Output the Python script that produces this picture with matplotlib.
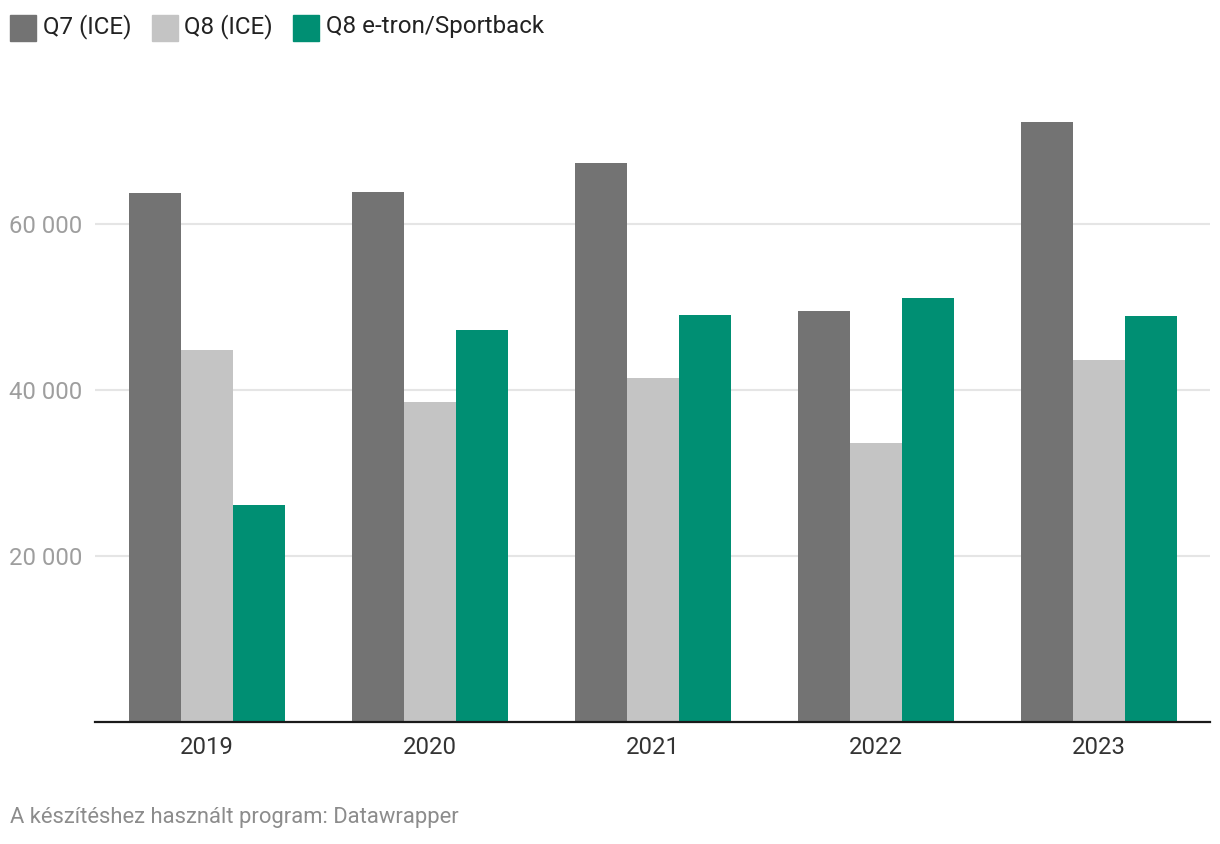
import numpy as np
import matplotlib.pyplot as plt
from matplotlib.patches import Rectangle

plt.rcParams['font.family'] = ['Roboto', 'DejaVu Sans']

years = ['2019', '2020', '2021', '2022', '2023']
series_names = ['Q7 (ICE)', 'Q8 (ICE)', 'Q8 e-tron/Sportback']
q7_ice = [63700, 63900, 67300, 49500, 72300]
q8_ice = [44800, 38500, 41400, 33600, 43600]
q8_etron = [26200, 47200, 49000, 51100, 48900]
colors = ['#737373', '#c4c4c4', '#008f73']

W, H = 1220, 844
fig = plt.figure(figsize=(W / 100, H / 100), dpi=100)
ax = fig.add_axes([95 / W, 1 - 722 / H, (1210 - 95) / W, (722 - 97) / H])

x = np.arange(len(years))
bw = 52 / 223
for i, vals in enumerate([q7_ice, q8_ice, q8_etron]):
    ax.bar(x + (i - 1) * bw, vals, width=bw, color=colors[i], zorder=3, linewidth=0)

ax.set_xlim(-0.5, len(years) - 0.5)
ax.set_ylim(0, 75300)
ax.set_yticks([20000, 40000, 60000])
ax.set_yticklabels(['20 000', '40 000', '60 000'])
ax.set_xticks(x)
ax.set_xticklabels(years)
ax.grid(axis='y', color='#e5e5e5', linewidth=1.5, zorder=0)
for s in ['top', 'right', 'left']:
    ax.spines[s].set_visible(False)
ax.spines['bottom'].set_color('#1a1a1a')
ax.spines['bottom'].set_linewidth(1.6)
ax.spines['bottom'].set_zorder(4)
ax.tick_params(axis='y', length=0, labelsize=17.2, labelcolor='#9e9e9e', pad=9)
ax.tick_params(axis='x', length=0, labelsize=17.2, labelcolor='#333333', pad=10)

# legend
lx = 10
for name, c in zip(series_names, colors):
    fig.patches.append(Rectangle((lx / W, 1 - 41 / H), 26 / W, 26 / H,
                                 transform=fig.transFigure, color=c))
    t = fig.text((lx + 33) / W, 1 - 27 / H, name, fontsize=17.4, color='#222222',
                 va='center', ha='left')
    fig.canvas.draw()
    bb = t.get_window_extent()
    lx = bb.x1 + 20

fig.text(10 / W, 1 - 818 / H, 'A készítéshez használt program: Datawrapper',
         fontsize=15.8, color='#8c8c8c', va='center', ha='left')

fig.savefig('out.png', dpi=100)
